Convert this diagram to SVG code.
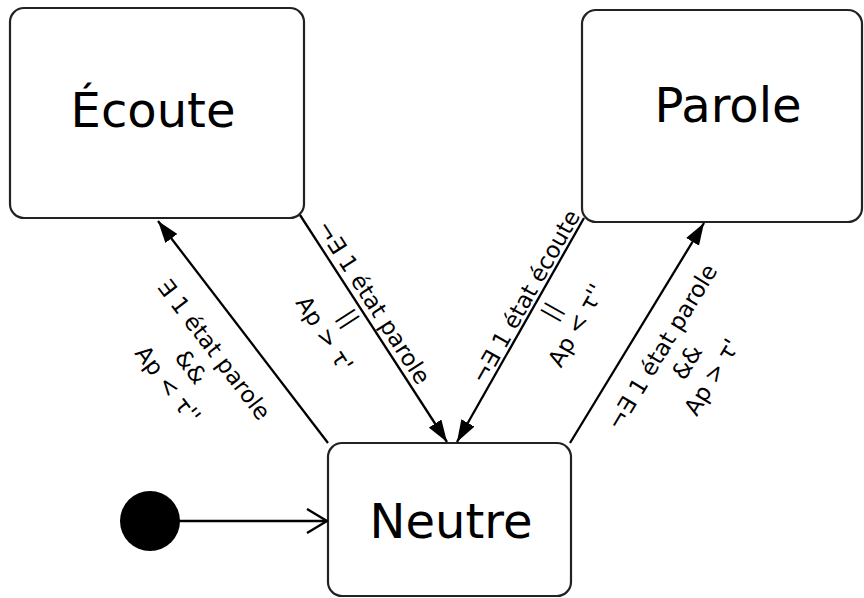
<svg xmlns="http://www.w3.org/2000/svg" width="864" height="598" viewBox="0 0 864 598">
  <defs>
    <marker id="filled" viewBox="0 0 22 15" refX="22" refY="7.5" markerWidth="22" markerHeight="15" markerUnits="userSpaceOnUse" orient="auto">
      <path d="M0,0 L22,7.5 L0,15 Z" fill="#000"/>
    </marker>
    <marker id="open" viewBox="0 0 22 26" refX="21" refY="13" markerWidth="22" markerHeight="26" markerUnits="userSpaceOnUse" orient="auto">
      <path d="M1,1 L21,13 L1,25" fill="none" stroke="#000" stroke-width="2.4"/>
    </marker>
    <style>
      .box { fill: #fff; stroke: #222; stroke-width: 2.2; }
      .title { font-family: "DejaVu Sans", sans-serif; font-size: 48px; fill: #000; text-anchor: middle; }
      .lbl { font-family: "DejaVu Sans", sans-serif; font-size: 23px; fill: #000; text-anchor: middle; }
      .edge { stroke: #000; stroke-width: 2.3; fill: none; }
    </style>
  </defs>
  <rect width="864" height="598" fill="#fff"/>

  <g id="ecoute">
    <rect class="box" x="10" y="8" width="294" height="210" rx="14"/>
    <text class="title" x="153" y="127">Écoute</text>
  </g>
  <g id="parole">
    <rect class="box" x="582" y="10" width="280" height="212" rx="14"/>
    <text class="title" x="728" y="122">Parole</text>
  </g>
  <g id="neutre">
    <rect class="box" x="328" y="443" width="243" height="153" rx="14"/>
    <text class="title" x="451" y="538">Neutre</text>
  </g>
  <g id="initial">
    <circle cx="150" cy="521" r="30" fill="#000"/>
  </g>

  <g id="connectors">
    <line class="edge" x1="179" y1="521" x2="327" y2="521" marker-end="url(#open)"/>
    <line class="edge" x1="328" y1="443" x2="158" y2="221" marker-end="url(#filled)"/>
    <line class="edge" x1="300" y1="215" x2="447" y2="442" marker-end="url(#filled)"/>
    <line class="edge" x1="584" y1="218" x2="457" y2="442" marker-end="url(#filled)"/>
    <line class="edge" x1="570" y1="443" x2="704" y2="223" marker-end="url(#filled)"/>

    <g transform="translate(191,367) rotate(52.7)">
      <text class="lbl" x="0" y="-21">∃ 1 état parole</text>
      <text class="lbl" x="0" y="8">&amp;&amp;</text>
      <text class="lbl" x="0" y="37">Ap &lt; τ''</text>
    </g>
    <g transform="translate(349,318) rotate(57.2)">
      <text class="lbl" x="0" y="-21">¬∃ 1 état parole</text>
      <text class="lbl" x="0" y="8">||</text>
      <text class="lbl" x="0" y="37">Ap &gt; τ'</text>
    </g>
    <g transform="translate(551,311) rotate(-60.6)">
      <text class="lbl" x="0" y="-21">¬∃ 1 état écoute</text>
      <text class="lbl" x="0" y="8">||</text>
      <text class="lbl" x="0" y="37">Ap &lt; τ''</text>
    </g>
    <g transform="translate(687,362) rotate(-58.8)">
      <text class="lbl" x="0" y="-21">¬∃ 1 état parole</text>
      <text class="lbl" x="0" y="8">&amp;&amp;</text>
      <text class="lbl" x="0" y="37">Ap &gt; τ'</text>
    </g>
  </g>
</svg>
